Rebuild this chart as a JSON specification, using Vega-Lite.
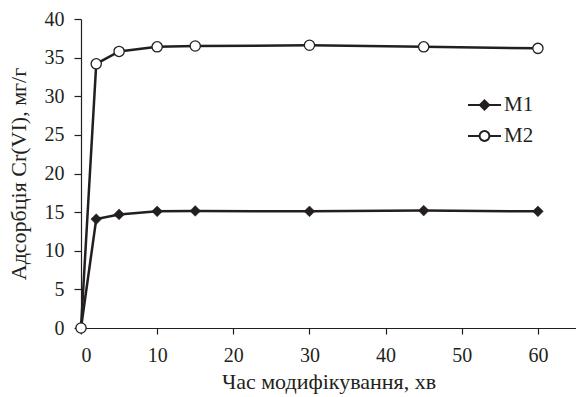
{
  "$schema": "https://vega.github.io/schema/vega-lite/v6.json",
  "autosize": {"type": "none"},
  "padding": {"left": 81, "top": 19, "right": 0, "bottom": 69},
  "width": 495,
  "height": 309,
  "background": "white",
  "config": {
    "view": {"stroke": null},
    "font": "Liberation Serif",
    "axis": {"grid": false, "domainColor": "#231f20", "tickColor": "#231f20", "labelColor": "#231f20", "titleColor": "#231f20", "labelFont": "Liberation Serif", "titleFont": "Liberation Serif", "labelFontSize": 20, "titleFontSize": 22, "titleFontWeight": "normal", "domainWidth": 1.2, "tickWidth": 1.2},
    "legend": {"labelFont": "Liberation Serif"}
  },
  "data": {"values": [
    {"t": 0, "a": 0, "s": "M1"},
    {"t": 2, "a": 14.1, "s": "M1"},
    {"t": 5, "a": 14.7, "s": "M1"},
    {"t": 10, "a": 15.1, "s": "M1"},
    {"t": 15, "a": 15.15, "s": "M1"},
    {"t": 30, "a": 15.1, "s": "M1"},
    {"t": 45, "a": 15.2, "s": "M1"},
    {"t": 60, "a": 15.1, "s": "M1"},
    {"t": 0, "a": 0, "s": "M2"},
    {"t": 2, "a": 34.2, "s": "M2"},
    {"t": 5, "a": 35.8, "s": "M2"},
    {"t": 10, "a": 36.4, "s": "M2"},
    {"t": 15, "a": 36.5, "s": "M2"},
    {"t": 30, "a": 36.6, "s": "M2"},
    {"t": 45, "a": 36.4, "s": "M2"},
    {"t": 60, "a": 36.2, "s": "M2"}
  ]},
  "encoding": {
    "x": {"field": "t", "type": "quantitative", "scale": {"domain": [0, 65], "nice": false, "zero": true},
      "axis": {"values": [0, 10, 20, 30, 40, 50, 60], "title": "Час модифікування, хв", "tickSize": 6, "labelPadding": 11, "titlePadding": 6}},
    "y": {"field": "a", "type": "quantitative", "scale": {"domain": [0, 40], "nice": false},
      "axis": {"values": [0, 5, 10, 15, 20, 25, 30, 35, 40], "title": "Адсорбція Cr(VI), мг/г", "tickSize": 7, "labelPadding": 10, "titlePadding": 14}}
  },
  "layer": [
    {
      "mark": {"type": "line", "color": "#231f20", "strokeWidth": 2.5},
      "encoding": {"detail": {"field": "s"}}
    },
    {
      "transform": [{"filter": "datum.s === 'M1'"}],
      "mark": {"type": "point", "shape": "diamond", "filled": true, "opacity": 1, "fill": "#231f20", "stroke": "#231f20", "strokeWidth": 0.5, "size": 115}
    },
    {
      "transform": [{"filter": "datum.s === 'M2'"}],
      "mark": {"type": "point", "shape": "circle", "filled": true, "opacity": 1, "fill": "white", "stroke": "#231f20", "strokeWidth": 1.3, "size": 105}
    },
    {
      "transform": [{"filter": "datum.t < 0"}],
      "mark": {"type": "point", "filled": true, "opacity": 1, "stroke": "#231f20", "strokeWidth": 2},
      "encoding": {
        "shape": {"field": "s", "type": "nominal",
          "scale": {"domain": ["M1", "M2"], "range": ["M-1,0L1,0M0,-0.28L0.28,0L0,0.28L-0.28,0Z", "M-1,0L-0.3,0M0.3,0L1,0M0.3,0A0.3,0.3,0,1,1,-0.3,0A0.3,0.3,0,1,1,0.3,0Z"]},
          "legend": {
            "title": null, "orient": "none", "legendX": 386, "legendY": 68.5, "padding": 0,
            "symbolSize": 1089, "symbolStrokeWidth": 2, "rowPadding": 3, "labelOffset": 2,
            "labelFont": "Liberation Serif", "labelFontSize": 21, "labelColor": "#231f20"
          }},
        "fill": {"field": "s", "type": "nominal", "scale": {"domain": ["M1", "M2"], "range": ["#231f20", "white"]}}
      }
    }
  ]
}
